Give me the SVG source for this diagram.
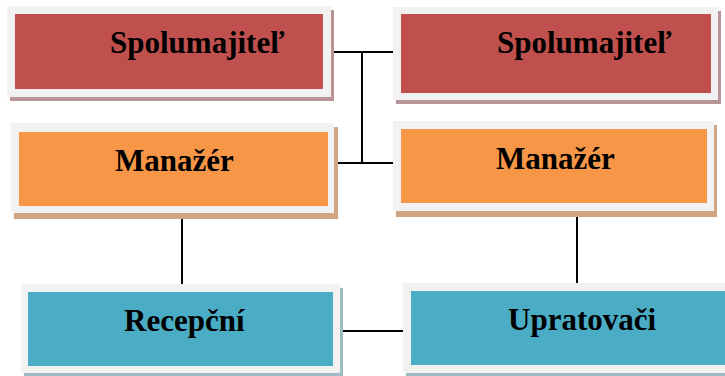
<svg xmlns="http://www.w3.org/2000/svg" width="725" height="376" viewBox="0 0 725 376">
<style>
.frame{fill:#F2F2F2;}
.red{fill:#C0504D;}
.orange{fill:#F79646;}
.blue{fill:#4BACC6;}
.sh-red{fill:#B89496;}
.sh-orange{fill:#D0A584;}
.sh-blue{fill:#9DBAC4;}
text{font-family:'Liberation Serif','Times New Roman','DejaVu Serif',serif;font-weight:bold;font-size:31px;fill:#000;}
.conn line{stroke:#000;stroke-width:2;}
</style>
<rect width="725" height="376" fill="#fff"/>
<g id="connectors" class="conn">
<line x1="331" y1="52" x2="393" y2="52"/>
<line x1="362" y1="52" x2="362" y2="163"/>
<line x1="334" y1="163" x2="393" y2="163"/>
<line x1="182" y1="219" x2="182" y2="284"/>
<line x1="577" y1="217" x2="577" y2="283"/>
<line x1="343" y1="331" x2="403" y2="331"/>
</g>
<g id="spolumajitel-1">
<rect class="sh-red" x="10" y="10" width="324" height="91"/>
<rect class="frame" x="7" y="6" width="324" height="91"/>
<rect class="red" x="15" y="14" width="308" height="75"/>
<text x="110" y="53" font-family="Liberation Serif, serif">Spolumajiteľ</text>
</g>
<g id="spolumajitel-2">
<rect class="sh-red" x="396" y="11" width="325" height="93"/>
<rect class="frame" x="393" y="7" width="325" height="93"/>
<rect class="red" x="401" y="14" width="310" height="79"/>
<text x="497" y="53">Spolumajiteľ</text>
</g>
<g id="manazer-1">
<rect class="sh-orange" x="14" y="127" width="324" height="92"/>
<rect class="frame" x="11" y="123" width="323" height="90"/>
<rect class="orange" x="19" y="132" width="309" height="74"/>
<text x="115" y="171">Manažér</text>
</g>
<g id="manazer-2">
<rect class="sh-orange" x="396" y="125" width="321" height="92"/>
<rect class="frame" x="393" y="121" width="321" height="90"/>
<rect class="orange" x="401" y="129" width="306" height="74"/>
<text x="496" y="169">Manažér</text>
</g>
<g id="recepcni">
<rect class="sh-blue" x="24" y="288" width="319" height="89"/>
<rect class="frame" x="21" y="284" width="319" height="89"/>
<rect class="blue" x="28" y="292" width="305" height="74"/>
<text x="124" y="331">Recepční</text>
</g>
<g id="upratovaci">
<rect class="sh-blue" x="406" y="287" width="332" height="90"/>
<rect class="frame" x="403" y="283" width="332" height="90"/>
<rect class="blue" x="411" y="291" width="316" height="74"/>
<text x="508" y="330">Upratovači</text>
</g>
</svg>
